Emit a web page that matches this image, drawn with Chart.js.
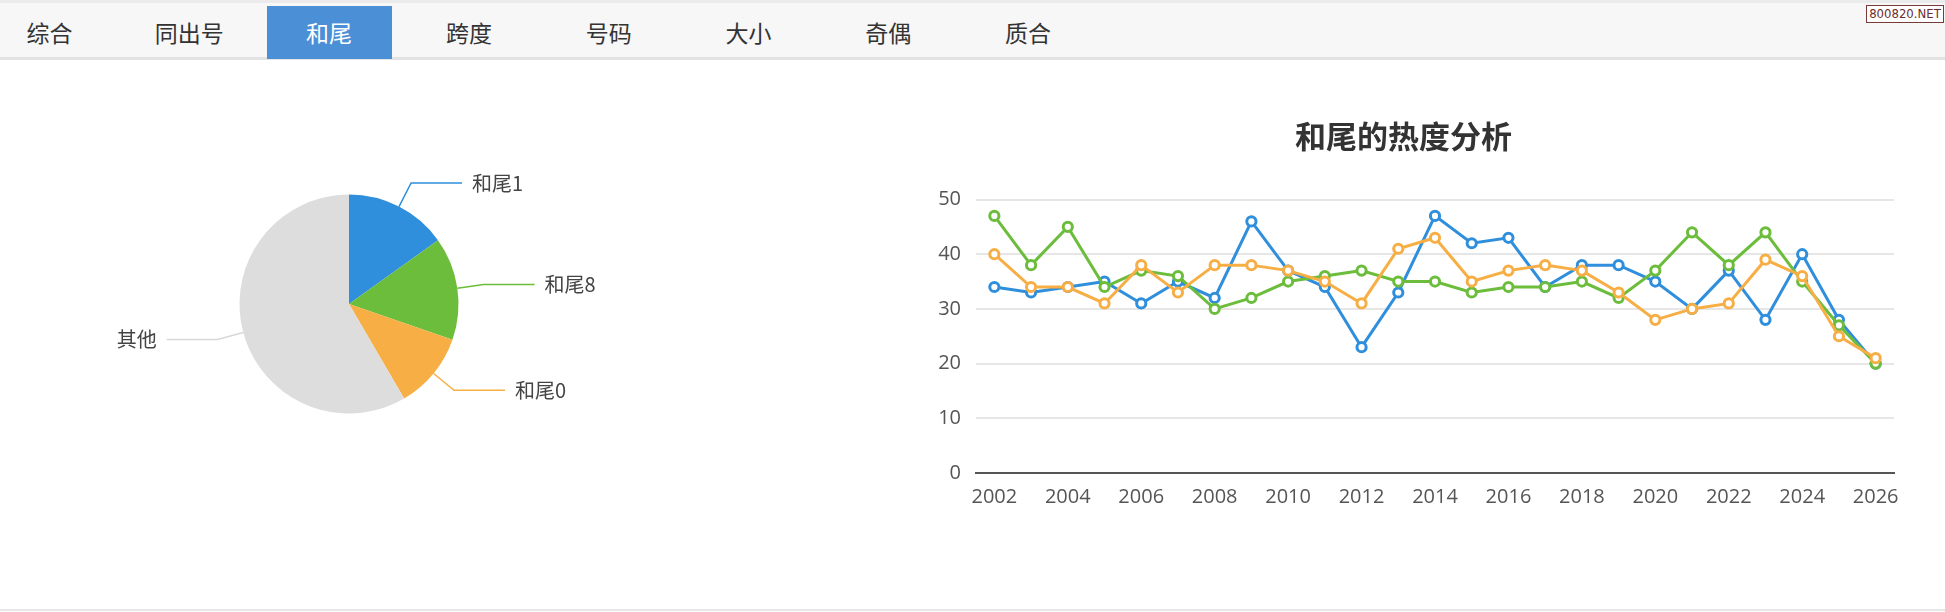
<!DOCTYPE html>
<html lang="zh-CN">
<head>
<meta charset="UTF-8">
<title>和尾的热度分析</title>
<script src="https://cdn.jsdelivr.net/npm/chart.js@4"></script>
<style>
  body { margin: 0; width: 1945px; height: 612px; position: relative; overflow: hidden; background: #fff; font-family: "Noto Sans CJK SC", sans-serif; }
  .topline { position: absolute; left: 0; top: 0; width: 100%; height: 3px; background: #ebebeb; }
  .tabs { position: absolute; left: 0; top: 3px; width: 100%; height: 54px; background: #f7f7f7; border-bottom: 3px solid #e3e3e3; }
  .tab { position: absolute; top: 3px; width: 125px; height: 53px; line-height: 53px; text-align: center; font-size: 23px; color: #333; }
  .tab.active { background: #4b8fd6; color: #fff; }
  .mark { position: absolute; left: 1866px; top: 5px; width: 76px; height: 16px; border: 1px solid #7b3a3a; background: #fff; color: #6b2d2d; font: 13px/16px "Liberation Sans Narrow", "DejaVu Sans Condensed", sans-serif; text-align: center; }
  .bottomline { position: absolute; left: 0; top: 609px; width: 100%; height: 2px; background: #e8e8e8; }
  #pieBox { position: absolute; left: 0; top: 80px; width: 700px; height: 450px; }
  #lineBox { position: absolute; left: 859px; top: 90px; width: 1083px; height: 440px; }
</style>
</head>
<body>
<div class="topline"></div>
<div class="tabs" id="tabs"></div>
<div class="mark">800820.NET</div>
<div id="pieBox"><canvas id="pieChart"></canvas></div>
<div id="lineBox"><canvas id="lineChart"></canvas></div>
<div class="bottomline"></div>

<script>
// tab bar
const tabNames = ['综合', '同出号', '和尾', '跨度', '号码', '大小', '奇偶', '质合'];
const activeTab = '和尾';

// pie data
const pieLabels = ['和尾1', '和尾8', '和尾0', '其他'];
const pieValues = [15.1, 15.2, 11.3, 58.4];
const pieColors = ['#2f8fdc', '#6cbd3c', '#f6ae45', '#dddddd'];
const pieLineColors = ['#2f8fdc', '#6cbd3c', '#f6ae45', '#d8d8d8'];

// line data
const years = ['2002', '2003', '2004', '2005', '2006', '2007', '2008', '2009', '2010', '2011', '2012', '2013',
               '2014', '2015', '2016', '2017', '2018', '2019', '2020', '2021', '2022', '2023', '2024', '2025', '2026'];
const xTickLabels = ['2002', '2004', '2006', '2008', '2010', '2012', '2014', '2016', '2018', '2020', '2022', '2024', '2026'];
const yTicks = [0, 10, 20, 30, 40, 50];
const tail1 = [34, 33, 34, 35, 31, 35, 32, 46, 37, 34, 23, 33, 47, 42, 43, 34, 38, 38, 35, 30, 37, 28, 40, 28, 20];
const tail8 = [47, 38, 45, 34, 37, 36, 30, 32, 35, 36, 37, 35, 35, 33, 34, 34, 35, 32, 37, 44, 38, 44, 35, 27, 20];
const tail0 = [40, 34, 34, 31, 38, 33, 38, 38, 37, 35, 31, 41, 43, 35, 37, 38, 37, 33, 28, 30, 31, 39, 36, 25, 21];

const tabs = document.getElementById('tabs');
tabNames.forEach((name, i) => {
    const d = document.createElement('div');
    d.className = 'tab' + (name === activeTab ? ' active' : '');
    d.style.left = (49.5 + i * 139.8 - 62.5) + 'px';
    d.textContent = name;
    tabs.appendChild(d);
});

Chart.defaults.font.family = '"Open Sans", "Noto Sans CJK SC", sans-serif';
Chart.defaults.animation = false;

// leader lines + labels for the pie
const pieLabelPlugin = {
    id: 'pieLabelPlugin',
    afterDatasetsDraw(chart) {
        const ctx = chart.ctx;
        const meta = chart.getDatasetMeta(0);
        ctx.save();
        ctx.font = '20px "Noto Sans CJK SC", sans-serif';
        ctx.textBaseline = 'middle';
        meta.data.forEach((arc, i) => {
            const p = arc.getProps(['x', 'y', 'startAngle', 'endAngle', 'outerRadius'], true);
            const mid = (p.startAngle + p.endAngle) / 2;
            const c = Math.cos(mid), s = Math.sin(mid);
            const x0 = p.x + c * p.outerRadius, y0 = p.y + s * p.outerRadius;
            const r1 = p.outerRadius + 26.5;
            const x1 = p.x + c * r1, y1 = p.y + s * r1;
            const dir = c >= 0 ? 1 : -1;
            const x2 = x1 + dir * 51;
            ctx.strokeStyle = pieLineColors[i];
            ctx.lineWidth = 1.5;
            ctx.beginPath();
            ctx.moveTo(x0, y0);
            ctx.lineTo(x1, y1);
            ctx.lineTo(x2, y1);
            ctx.stroke();
            ctx.fillStyle = '#444';
            ctx.textAlign = dir > 0 ? 'left' : 'right';
            ctx.fillText(chart.data.labels[i], x2 + dir * 10, y1);
        });
        ctx.restore();
    }
};

new Chart(document.getElementById('pieChart'), {
    type: 'pie',
    data: {
        labels: pieLabels,
        datasets: [{
            data: pieValues,
            backgroundColor: pieColors,
            borderWidth: 0
        }]
    },
    options: {
        responsive: true,
        maintainAspectRatio: false,
        layout: { padding: { left: 239.5, right: 241.5, top: 114.5, bottom: 116.5 } },
        plugins: { legend: { display: false }, tooltip: { enabled: false } }
    },
    plugins: [pieLabelPlugin]
});

function series(data, color, order) {
    return {
        data: data,
        borderColor: color,
        backgroundColor: '#fff',
        borderWidth: 3,
        pointRadius: 4.6,
        pointBorderWidth: 3,
        pointBackgroundColor: '#fff',
        pointBorderColor: color,
        tension: 0,
        order: order
    };
}

new Chart(document.getElementById('lineChart'), {
    type: 'line',
    data: {
        labels: years,
        datasets: [
            Object.assign(series(tail1, pieColors[0], 3), { label: pieLabels[0] }),
            Object.assign(series(tail8, pieColors[1], 2), { label: pieLabels[1] }),
            Object.assign(series(tail0, pieColors[2], 1), { label: pieLabels[2] })
        ]
    },
    options: {
        responsive: true,
        maintainAspectRatio: false,
        layout: { padding: { left: 54, right: 48, top: 0, bottom: 9 } },
        plugins: {
            legend: { display: false },
            tooltip: { enabled: false },
            title: {
                display: true,
                text: '和尾的热度分析',
                color: '#333',
                font: { family: '"Noto Sans CJK SC", sans-serif', size: 31, weight: 'bold' },
                padding: { top: 27.4, bottom: 44.9 }
            }
        },
        scales: {
            x: {
                offset: true,
                grid: { display: false, drawTicks: false },
                border: { display: true, color: '#555', width: 2 },
                ticks: {
                    autoSkip: false,
                    maxRotation: 0,
                    padding: 12,
                    color: '#555',
                    font: { size: 20 },
                    callback: function (value) {
                        const label = this.getLabelForValue(value);
                        return xTickLabels.includes(label) ? label : '';
                    }
                }
            },
            y: {
                min: yTicks[0],
                max: yTicks[yTicks.length - 1],
                afterFit: scale => { scale.width = 63; },
                grid: { color: '#e6e6e6', lineWidth: 2, drawTicks: false },
                border: { display: false },
                ticks: {
                    stepSize: yTicks[1] - yTicks[0],
                    padding: 15,
                    color: '#555',
                    font: { size: 20 }
                }
            }
        }
    }
});
</script>
</body>
</html>
